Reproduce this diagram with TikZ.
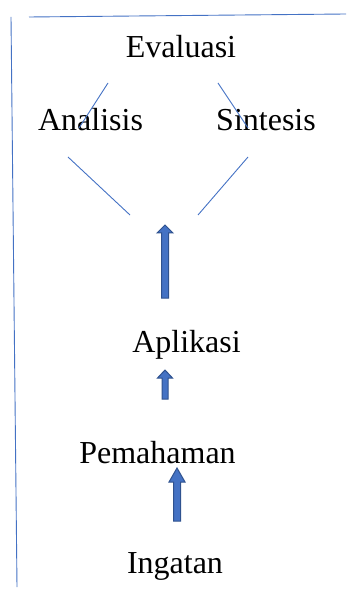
\documentclass[tikz,border=0pt]{standalone}
\usepackage{fontspec}
\setmainfont{Liberation Serif}
\definecolor{lineblue}{HTML}{4472C4}
\definecolor{arrowfill}{HTML}{4472C4}
\definecolor{arrowedge}{HTML}{2F528F}
\begin{document}
\begin{tikzpicture}[x=1pt,y=-1pt,
  lbl/.style={anchor=base,inner sep=0pt,font=\fontsize{32}{37}\selectfont},
  thin/.style={draw=lineblue,line width=0.9pt},
  blockarrow/.style={fill=arrowfill,draw=arrowedge,line width=1pt,line join=miter}]
\useasboundingbox (0,0) rectangle (346,593);

% frame lines
\draw[thin] (29,17) -- (346,14);
\draw[thin] (11,17) -- (17,587);

% labels
\node[lbl] (eval) at (181,58) {Evaluasi};
\node[lbl] (anal) at (90.5,131) {Analisis};
\node[lbl] (sint) at (266,131) {Sintesis};
\node[lbl] (apl)  at (186.5,352) {Aplikasi};
\node[lbl] (pem)  at (157.5,463) {Pemahaman};
\node[lbl] (ing)  at (175,573) {Ingatan};

% diagonal strokes
\draw[thin] (108,83) -- (79,128);
\draw[thin] (218,83) -- (248,128);
\draw[thin] (68,157) -- (130,215);
\draw[thin] (248,157) -- (198,215);

% block arrows
\draw[blockarrow] (161.5,298) -- (161.5,233) -- (157,233) -- (165,225) -- (173,233) -- (168.5,233) -- (168.5,298) -- cycle;
\draw[blockarrow] (162,399) -- (162,378) -- (157.5,378) -- (165,370) -- (172.5,378) -- (168,378) -- (168,399) -- cycle;
\draw[blockarrow] (173.5,521) -- (173.5,482) -- (169,482) -- (177,468) -- (185,482) -- (180.5,482) -- (180.5,521) -- cycle;
\end{tikzpicture}
\end{document}
